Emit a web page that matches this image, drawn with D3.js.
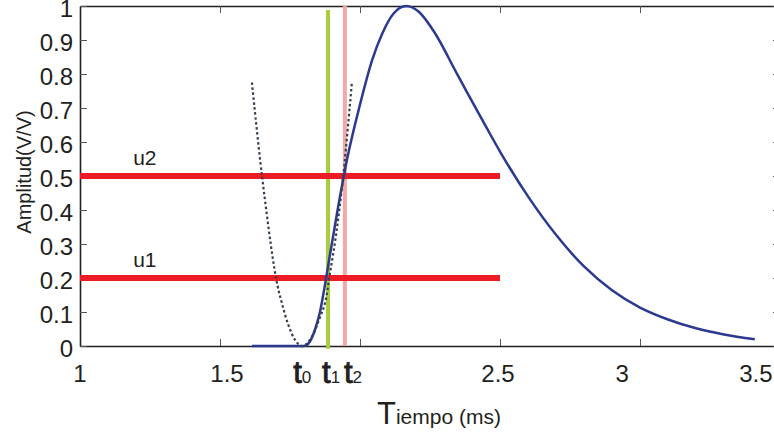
<!DOCTYPE html>
<html>
<head>
<meta charset="utf-8">
<script src="https://cdn.jsdelivr.net/npm/d3@7"></script>
<style>
  body { margin: 0; background: #fff; }
  svg { font-family: "Liberation Sans", Arial, sans-serif; }
</style>
</head>
<body>
<div id="chart"></div>
<script>
// pulse (time in ms, amplitude V/V)
var pulseTime = [1.614, 1.70, 1.80, 1.82, 1.84, 1.857, 1.875, 1.893, 1.92, 1.954, 2.0, 2.043, 2.08, 2.12, 2.165, 2.21, 2.26, 2.35, 2.45, 2.5, 2.6, 2.7, 2.8, 2.9, 3.0, 3.1, 3.2, 3.3, 3.41];
var pulseAmp  = [0, 0, 0, 0.012, 0.05, 0.10, 0.18, 0.27, 0.40, 0.55, 0.71, 0.84, 0.92, 0.978, 1.0, 0.983, 0.93, 0.795, 0.645, 0.572, 0.44, 0.327, 0.234, 0.164, 0.113, 0.078, 0.052, 0.034, 0.02];

// dotted fit parabola
var fitTime = [1.614, 1.65, 1.70, 1.721, 1.745, 1.768, 1.79, 1.807, 1.83, 1.855, 1.875, 1.893, 1.915, 1.94, 1.971];
var fitAmp  = [0.775, 0.5, 0.2, 0.126, 0.06, 0.018, 0.0, 0.005, 0.03, 0.08, 0.126, 0.215, 0.33, 0.5, 0.775];

// thresholds
var thresholdNames = ["u1", "u2"];
var thresholdValues = [0.2, 0.5];
var thresholdEnd = 2.5;

// time markers
var markerNames = ["0", "1", "2"];
var markerTimes = [1.79, 1.886, 1.946];

// ticks
var xTicks = [1, 1.5, 2, 2.5, 3, 3.5];
var xLabelText = ["1", "1.5", "2.5", "3", "3.5"];
var xLabelAt = [1, 1.525, 2.493, 2.936, 3.414];
var yTicks = [0, 0.1, 0.2, 0.3, 0.4, 0.5, 0.6, 0.7, 0.8, 0.9, 1];

var svgWidth = 774;
var svgHeight = 433;
var margin = { top: 6, right: -6, bottom: 87, left: 80 };
var width = svgWidth - margin.left - margin.right;
var height = svgHeight - margin.top - margin.bottom;

var svg = d3.select("#chart").append("svg")
  .attr("width", svgWidth)
  .attr("height", svgHeight);

var chartGroup = svg.append("g")
  .attr("transform", `translate(${margin.left}, ${margin.top})`);

var x = d3.scaleLinear().domain([1, 3.5]).range([0, width]);
var y = d3.scaleLinear().domain([0, 1]).range([height, 0]);

var axisColor = "#231f20";

// frame with inward ticks
var axes = [
  { ax: d3.axisBottom(x).tickValues(xTicks), t: `translate(0,${height})` },
  { ax: d3.axisTop(x).tickValues(xTicks), t: "translate(0,0)" },
  { ax: d3.axisLeft(y).tickValues(yTicks), t: "translate(0,0)" },
  { ax: d3.axisRight(y).tickValues(yTicks), t: `translate(${width},0)` }
];
axes.forEach(function(a) {
  var g = chartGroup.append("g")
    .attr("transform", a.t)
    .call(a.ax.tickSize(-7).tickSizeOuter(0).tickFormat(""));
  g.select(".domain").attr("stroke", axisColor).attr("stroke-width", 1.6);
  g.selectAll(".tick line").attr("stroke", "#555").attr("stroke-width", 1);
});

// y tick labels
chartGroup.selectAll(".ylab")
  .data(yTicks)
  .enter()
  .append("text")
  .attr("class", "ylab")
  .attr("x", -7)
  .attr("y", d => y(d))
  .attr("dy", "0.46em")
  .attr("text-anchor", "end")
  .attr("font-size", "24px")
  .attr("fill", axisColor)
  .text(d => d3.format("")(d));

// x tick labels
chartGroup.selectAll(".xlab")
  .data(xLabelText)
  .enter()
  .append("text")
  .attr("class", "xlab")
  .attr("x", (d, i) => x(xLabelAt[i]))
  .attr("y", height + 36)
  .attr("text-anchor", "middle")
  .attr("font-size", "24px")
  .attr("fill", axisColor)
  .text(d => d);

// vertical markers t1, t2
chartGroup.append("line")
  .attr("x1", x(markerTimes[1])).attr("x2", x(markerTimes[1]))
  .attr("y1", y(0.988)).attr("y2", y(-0.008))
  .attr("stroke", "#a6cd3a").attr("stroke-width", 4);
chartGroup.append("line")
  .attr("x1", x(markerTimes[2])).attr("x2", x(markerTimes[2]))
  .attr("y1", y(1)).attr("y2", y(0))
  .attr("stroke", "#f6a8a8").attr("stroke-width", 4);

// threshold lines
chartGroup.selectAll(".thr")
  .data(thresholdValues)
  .enter()
  .append("line")
  .attr("class", "thr")
  .attr("x1", x(1)).attr("x2", x(thresholdEnd))
  .attr("y1", d => y(d)).attr("y2", d => y(d))
  .attr("stroke", "#ed1c24").attr("stroke-width", 6);

chartGroup.selectAll(".thrlab")
  .data(thresholdNames)
  .enter()
  .append("text")
  .attr("class", "thrlab")
  .attr("x", x(1.19))
  .attr("y", (d, i) => y(thresholdValues[i]) - 11)
  .attr("font-size", "21px")
  .attr("fill", axisColor)
  .text(d => d);

// pulse curve
var pulseLine = d3.line()
  .x(d => x(d[0]))
  .y(d => y(d[1]))
  .curve(d3.curveMonotoneX);

chartGroup.append("path")
  .datum(pulseTime.map((t, i) => [t, pulseAmp[i]]))
  .attr("d", pulseLine)
  .attr("fill", "none")
  .attr("stroke", "#2b3990")
  .attr("stroke-width", 2.5);

// dotted parabola
var fitLine = d3.line()
  .x(d => x(d[0]))
  .y(d => y(d[1]))
  .curve(d3.curveCatmullRom);

chartGroup.append("path")
  .datum(fitTime.map((t, i) => [t, fitAmp[i]]))
  .attr("d", fitLine)
  .attr("fill", "none")
  .attr("stroke", "#34404e")
  .attr("stroke-width", 2.2)
  .attr("stroke-dasharray", "2.5,2.5");

// t0 t1 t2 labels
var tLab = chartGroup.append("text")
  .attr("y", height + 37)
  .attr("fill", "#231f20");
markerNames.forEach(function(n, i) {
  tLab.append("tspan")
    .attr("x", x(markerTimes[i]) - [8, 6, 1][i])
    .attr("font-size", "31px")
    .attr("stroke", "#231f20")
    .attr("stroke-width", 0.9)
    .text("t");
  tLab.append("tspan")
    .attr("font-size", "17px")
    .text(n);
});

// axis titles
svg.append("text")
  .attr("transform", `translate(31, ${margin.top + height / 2 - 4}) rotate(-90)`)
  .attr("text-anchor", "middle")
  .attr("font-size", "20px")
  .attr("fill", axisColor)
  .text("Amplitud(V/V)");

var xTitle = svg.append("text")
  .attr("x", 377)
  .attr("y", 424)
  .attr("fill", axisColor);
xTitle.append("tspan").attr("font-size", "31px").text("T");
xTitle.append("tspan").attr("font-size", "21px").text("iempo (ms)");
</script>
</body>
</html>
